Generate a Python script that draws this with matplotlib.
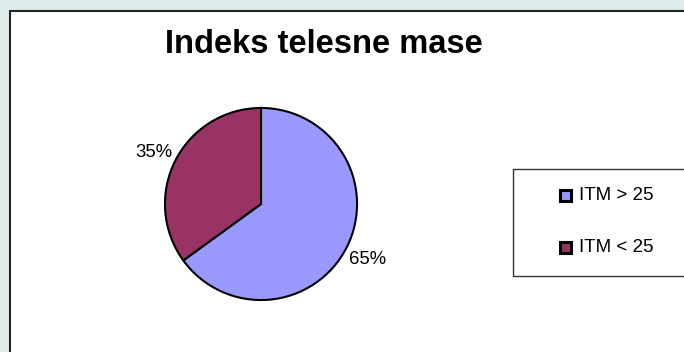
import numpy as np
import matplotlib
matplotlib.use("Agg")
import matplotlib.pyplot as plt
from matplotlib.patches import Rectangle

# Data
labels = ["ITM > 25", "ITM < 25"]
shares = [65, 35]
colors = ["#9999FF", "#993366"]
title = "Indeks telesne mase"

W, H = 684, 352
plt.rcParams["font.family"] = ["Liberation Sans", "DejaVu Sans"]

fig = plt.figure(figsize=(W / 100, H / 100), dpi=100)
fig.patch.set_facecolor("#E0EBEC")

def fx(px):
    return px / W

def fy(py):
    return 1 - py / H

# white chart area with dark left/top border
area = Rectangle((fx(10), -0.1), 1.2, fy(11) + 0.1, transform=fig.transFigure,
                 facecolor="white", edgecolor="#222222", linewidth=1.5, zorder=-5)
fig.patches.append(area)

fig.text(fx(324), fy(41), title, ha="center", va="center_baseline",
         fontsize=23.5, fontweight="bold")

# pie
cx, cy, r = 261, 204, 97
ax = fig.add_axes([fx(cx - r), fy(cy + r), 2 * r / W, 2 * r / H])
ax.set_zorder(3)
wedges, _ = ax.pie(shares, colors=colors, startangle=90, counterclock=False,
                   wedgeprops=dict(edgecolor="black", linewidth=1.5))
ax.set_xlim(-1.01, 1.01)
ax.set_ylim(-1.01, 1.01)
ax.set_aspect("equal")
ax.axis("off")

for w, val in zip(wedges, shares):
    ang = np.deg2rad((w.theta1 + w.theta2) / 2)
    ax.text(1.25 * np.cos(ang), 1.23 * np.sin(ang) - 0.02, f"{val}%",
            ha="center", va="center", fontsize=13.3, clip_on=False)

# legend box
box = Rectangle((fx(513), fy(276)), 1.0, (276 - 169) / H, transform=fig.transFigure,
                facecolor="white", edgecolor="#333333", linewidth=1.0, zorder=1)
fig.patches.append(box)
for i, (lab, col) in enumerate(zip(labels, colors)):
    y = 195 + i * 52
    sq = Rectangle((fx(559.5), fy(y + 5.5)), 11 / W, 11 / H, transform=fig.transFigure,
                   facecolor=col, edgecolor="black", linewidth=2.2, zorder=2)
    fig.patches.append(sq)
    fig.text(fx(579), fy(y + 1), lab, ha="left", va="center", fontsize=13.5)

fig.savefig("out.png", dpi=100, facecolor=fig.get_facecolor())
